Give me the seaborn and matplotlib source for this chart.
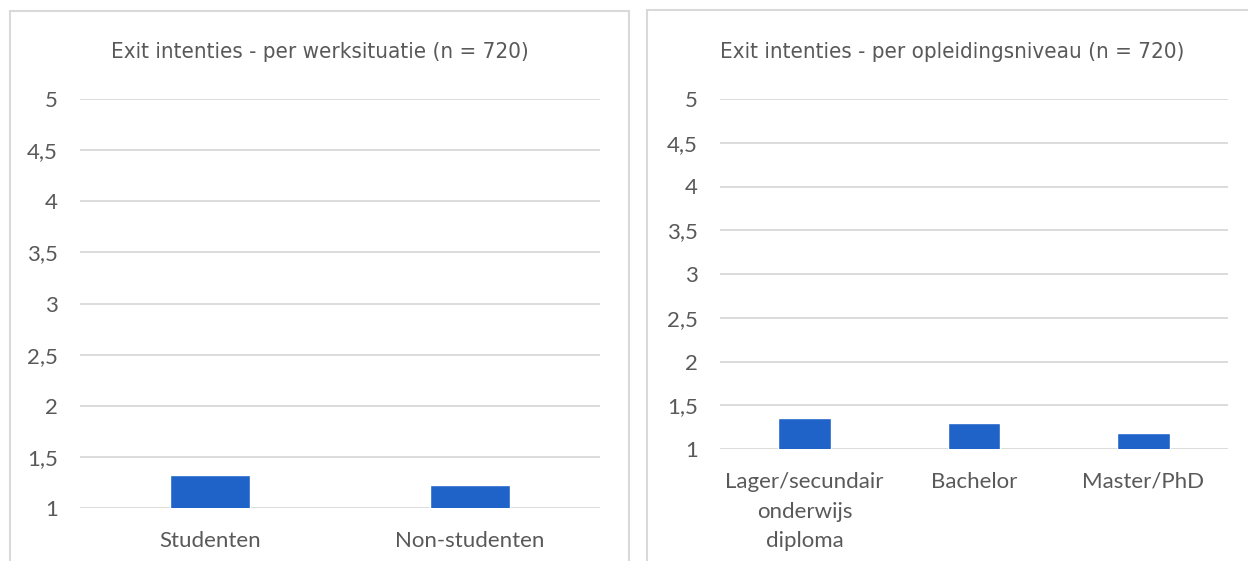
import pandas as pd
import numpy as np
import matplotlib.pyplot as plt
import seaborn as sns
from matplotlib.patches import Rectangle
from matplotlib.ticker import FuncFormatter

# ============================================================================
# 데이터
# ============================================================================
werk_categories = ['Studenten', 'Non-studenten']
werk_values = [1.32, 1.225]

opl_categories = ['Lager/secundair\nonderwijs\ndiploma', 'Bachelor', 'Master/PhD']
opl_values = [1.36, 1.30, 1.185]

title_left = 'Exit intenties - per werksituatie (n = 720)'
title_right = 'Exit intenties - per opleidingsniveau (n = 720)'
y_ticks = [1, 1.5, 2, 2.5, 3, 3.5, 4, 4.5, 5]

# ============================================================================
# 스타일
# ============================================================================
sns.set_style('white')
plt.rcParams['font.family'] = ['Lato', 'DejaVu Sans']

bar_color = '#2063C8'
text_color = '#595959'
grid_color = '#D9D9D9'

W, H = 1248, 561
fig = plt.figure(figsize=(W / 100, H / 100), dpi=100)

# 패널 테두리
fig.add_artist(Rectangle((10 / W, -0.1), 619 / W, 1.1 - 11 / H, transform=fig.transFigure,
                         fill=False, edgecolor=grid_color, linewidth=1.5))
fig.add_artist(Rectangle((647 / W, -0.1), 700 / W, 1.1 - 10 / H, transform=fig.transFigure,
                         fill=False, edgecolor=grid_color, linewidth=1.5))

# 축 위치 (픽셀 기준)
ax1 = fig.add_axes([80 / W, (H - 508) / H, 520 / W, 409 / H])
ax2 = fig.add_axes([720 / W, (H - 449) / H, 508 / W, 350 / H])

df_werk = pd.DataFrame({'cat': werk_categories, 'val': werk_values})
df_opl = pd.DataFrame({'cat': opl_categories, 'val': opl_values})

sns.barplot(data=df_werk, x='cat', y='val', ax=ax1, color=bar_color, width=0.31, saturation=1)
sns.barplot(data=df_opl, x='cat', y='val', ax=ax2, color=bar_color, width=0.31, saturation=1)

fmt = FuncFormatter(lambda v, p: f'{v:g}'.replace('.', ','))

for ax, title, tx in [(ax1, title_left, 320 / W), (ax2, title_right, 952 / W)]:
    ax.set_ylim(1, 5)
    ax.set_yticks(y_ticks)
    ax.yaxis.set_major_formatter(fmt)
    ax.set_xlabel('')
    ax.set_ylabel('')
    ax.grid(axis='y', color=grid_color, linewidth=1.3)
    ax.set_axisbelow(True)
    for s in ax.spines.values():
        s.set_visible(False)
    ax.tick_params(axis='y', length=0, pad=16, labelsize=16, labelcolor=text_color)
    ax.tick_params(axis='x', length=0, pad=16.5, labelsize=16, labelcolor=text_color)
    for lbl in ax.get_xticklabels():
        lbl.set_linespacing(1.6)
    # 제목 (condensed)
    fig.text(tx, 1 - 52 / H, title, ha='center', va='center', fontsize=16,
             color=text_color, family='DejaVu Sans', fontstretch='condensed')

plt.savefig('out.png', dpi=100)
plt.close()
